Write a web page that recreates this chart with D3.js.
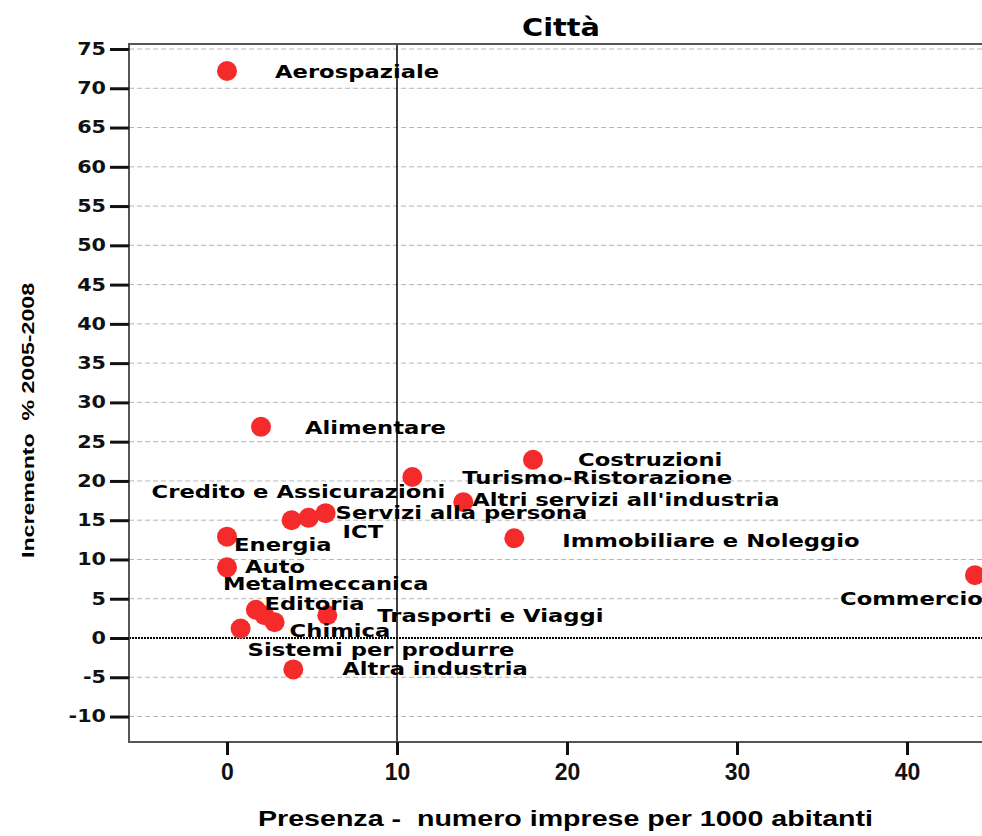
<!DOCTYPE html>
<html>
<head>
<meta charset="utf-8">
<script src="https://cdn.jsdelivr.net/npm/d3@7"></script>
<style>
    body { margin: 0; background: #fff; }
</style>
</head>
<body>
<div id="grafico"></div>
<script>
var settori = ["Aerospaziale", "Alimentare", "Costruzioni", "Turismo-Ristorazione",
    "Altri servizi all'industria", "Immobiliare e Noleggio", "Credito e Assicurazioni",
    "ICT", "Servizi alla persona", "Energia", "Auto", "Metalmeccanica", "Editoria",
    "Chimica", "Sistemi per produrre", "Trasporti e Viaggi", "Altra industria", "Commercio"];

var presenza = [0, 2, 18, 10.9, 13.9, 16.9, 3.8, 4.8, 5.8, 0, 0, 1.7, 2.2, 2.8, 0.8, 5.9, 3.9, 44];

var incremento = [72.2, 26.9, 22.7, 20.5, 17.3, 12.7, 15.0, 15.3, 15.9, 12.9, 9.0, 3.6, 2.9, 2.0, 1.2, 2.9, -4.0, 8.0];

var tickY = [-10, -5, 0, 5, 10, 15, 20, 25, 30, 35, 40, 45, 50, 55, 60, 65, 70, 75];
var tickX = [0, 10, 20, 30, 40];

// posizione delle etichette rispetto al punto (pixel)
var etichettaDx = [48, 44, 45, 50, 9, 48, -140, 34, 10, 7, 18, -33, 0, 15, 7, 50, 49, -135];
var etichettaDy = [7, 7, 6, 7, 4, 9, -22, 20, 6, 14, 6, -20, -5, 15, 27, 7, 6, 30];

var width = 982;
var height = 836;

var svg = d3.select('#grafico')
    .append('svg')
    .attr('width', width)
    .attr('height', height)
    .style('background', '#fff');

var x = d3.scaleLinear().domain([0, 40]).range([227, 907]);
var y = d3.scaleLinear().domain([0, 75]).range([638, 49]);

var plotLeft = 129, plotTop = 44, plotBottom = 742, plotRight = 1010;

// griglia tratteggiata
svg.append('g')
    .selectAll('line')
    .data(tickY.filter(d => d != 0))
    .enter()
    .append('line')
    .attr('x1', plotLeft)
    .attr('x2', plotRight)
    .attr('y1', d => y(d))
    .attr('y2', d => y(d))
    .attr('stroke', '#b4b4b4')
    .attr('stroke-width', 1)
    .attr('stroke-dasharray', '5,3');

// linea dello zero
svg.append('line')
    .attr('x1', plotLeft)
    .attr('x2', plotRight)
    .attr('y1', y(0))
    .attr('y2', y(0))
    .attr('stroke', '#000')
    .attr('stroke-width', 2)
    .attr('stroke-dasharray', '2,1');

// linea verticale a 10
svg.append('line')
    .attr('x1', x(10))
    .attr('x2', x(10))
    .attr('y1', plotTop)
    .attr('y2', plotBottom)
    .attr('stroke', '#000')
    .attr('stroke-width', 1.5);

// cornice
svg.append('rect')
    .attr('x', plotLeft)
    .attr('y', plotTop)
    .attr('width', plotRight - plotLeft)
    .attr('height', plotBottom - plotTop)
    .attr('fill', 'none')
    .attr('stroke', '#555')
    .attr('stroke-width', 2);

// asse y
var yaxis = d3.axisLeft(y).tickValues(tickY).tickSize(19).tickPadding(4)
    .tickFormat(d => String(d));
var gy = svg.append('g')
    .attr('transform', 'translate(' + plotLeft + ',0)')
    .call(yaxis);
gy.select('.domain').remove();
gy.selectAll('.tick line').attr('stroke', '#111').attr('stroke-width', 3);
gy.selectAll('.tick text')
    .attr('x', -23 / 1.22)
    .attr('transform', 'scale(1.22,1)')
    .style('font-family', 'DejaVu Sans')
    .style('font-weight', 'bold')
    .style('font-size', '17px')
    .attr('fill', '#111');

// asse x
var xaxis = d3.axisBottom(x).tickValues(tickX).tickSize(13).tickPadding(9)
    .tickFormat(d => String(d));
var gx = svg.append('g')
    .attr('transform', 'translate(0,' + plotBottom + ')')
    .call(xaxis);
gx.select('.domain').remove();
gx.selectAll('.tick line').attr('stroke', '#111').attr('stroke-width', 3);
gx.selectAll('.tick text')
    .style('font-family', 'Liberation Sans')
    .style('font-weight', 'bold')
    .style('font-size', '23px')
    .attr('fill', '#111');

// punti
svg.append('g')
    .selectAll('circle')
    .data(settori)
    .enter()
    .append('circle')
    .attr('cx', (d, i) => x(presenza[i]))
    .attr('cy', (d, i) => y(incremento[i]))
    .attr('r', 10)
    .attr('fill', '#f52a2a');

// etichette
svg.append('g')
    .selectAll('text')
    .data(settori)
    .enter()
    .append('text')
    .attr('transform', (d, i) => 'translate(' + (x(presenza[i]) + etichettaDx[i]) + ',' +
        (y(incremento[i]) + etichettaDy[i]) + ') scale(1.26,1)')
    .style('font-family', 'DejaVu Sans')
    .style('font-weight', 'bold')
    .style('font-size', '18px')
    .attr('fill', '#000')
    .text(d => d);

// titolo
svg.append('text')
    .attr('transform', 'translate(561,36) scale(1.2,1)')
    .attr('text-anchor', 'middle')
    .style('font-family', 'DejaVu Sans')
    .style('font-weight', 'bold')
    .style('font-size', '24px')
    .text('Città');

svg.append('text')
    .attr('x', 258)
    .attr('y', 826)
    .attr('textLength', 615)
    .attr('lengthAdjust', 'spacingAndGlyphs')
    .style('white-space', 'pre')
    .style('font-family', 'Liberation Sans')
    .style('font-weight', 'bold')
    .style('font-size', '22px')
    .text('Presenza -  numero imprese per 1000 abitanti');

svg.append('text')
    .attr('transform', 'translate(34,558) rotate(-90)')
    .attr('textLength', 275)
    .attr('lengthAdjust', 'spacingAndGlyphs')
    .style('white-space', 'pre')
    .style('font-family', 'Liberation Sans')
    .style('font-weight', 'bold')
    .style('font-size', '16px')
    .text('Incremento  % 2005-2008');
</script>
</body>
</html>
